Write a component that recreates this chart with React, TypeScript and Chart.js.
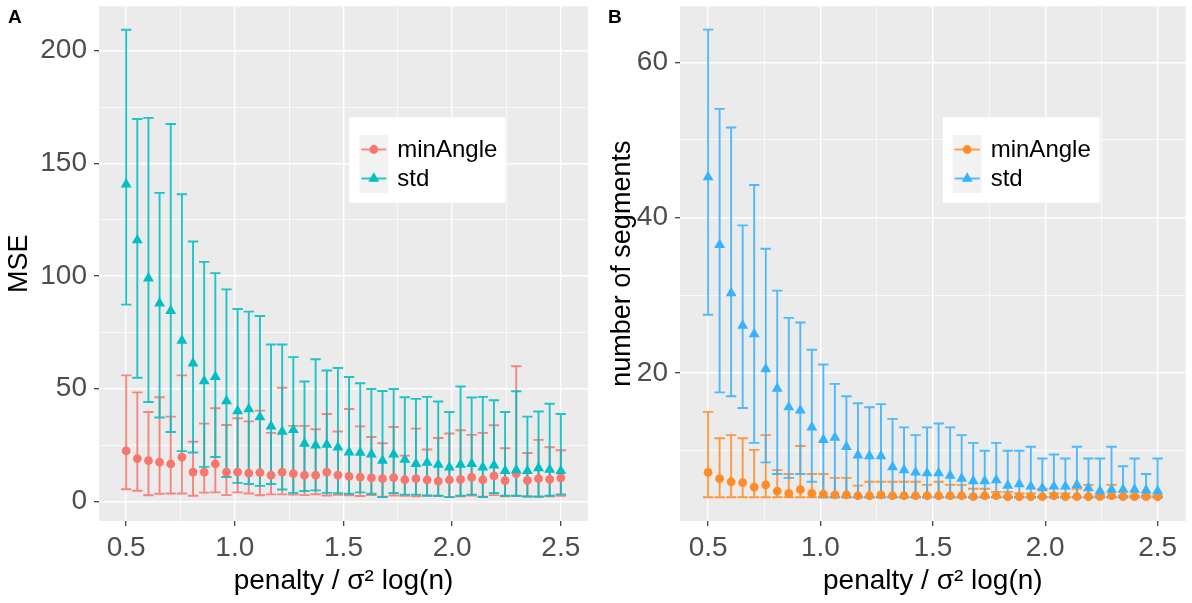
import React, { useEffect, useRef } from "react";
import { Chart, registerables } from "chart.js";

Chart.register(...registerables);

// ---------- data ----------
const xValues = [
  0.5, 0.5513, 0.6026, 0.6538, 0.7051, 0.7564, 0.8077, 0.859, 0.9103, 0.9615,
  1.0128, 1.0641, 1.1154, 1.1667, 1.2179, 1.2692, 1.3205, 1.3718, 1.4231, 1.4744,
  1.5256, 1.5769, 1.6282, 1.6795, 1.7308, 1.7821, 1.8333, 1.8846, 1.9359, 1.9872,
  2.0385, 2.0897, 2.141, 2.1923, 2.2436, 2.2949, 2.3462, 2.3974, 2.4487, 2.5,
];

const xMajorTicks = [0.5, 1.0, 1.5, 2.0, 2.5];
const xTickLabels = ["0.5", "1.0", "1.5", "2.0", "2.5"];
const xMinorTicks = [0.75, 1.25, 1.75, 2.25];

// Panel A: MSE
const mseMinAngleMean = [
  22.4, 19, 18.1, 17.4, 16.6, 19.6, 13, 13, 16.6, 13,
  13, 12.5, 12.8, 11.6, 13, 12.3, 11.6, 11.6, 13, 11.7,
  11.1, 10.8, 10.4, 10.1, 10.5, 9.6, 10.1, 9.5, 9, 9.5,
  9.8, 10.7, 9.6, 11.3, 9.2, 12.3, 9.3, 10.1, 9.8, 10.4,
];
const mseMinAngleHigh = [
  55.9, 48.4, 39.7, 46.2, 37.6, 55.9, 26.5, 34.5, 41.3, 33.9,
  36.9, 35.5, 40.3, 30.4, 50.4, 33.5, 33.5, 32, 38.8, 31,
  41, 33.3, 28.6, 25.8, 33, 20.3, 32.3, 23, 28.1, 30.1,
  31.6, 29.5, 30.4, 33.8, 23.6, 60, 21.5, 27.3, 24, 22.7,
];
const mseMinAngleLow = [
  5.4, 4.7, 2.7, 3.4, 3.5, 3.5, 2.5, 3.9, 4, 2.8,
  4, 3.5, 2.7, 3.1, 3.1, 3, 2.8, 3.2, 2.6, 2.9,
  2.7, 2.4, 2.8, 2.1, 2.6, 2.5, 2.3, 2.6, 2.4, 1.9,
  2.3, 2.6, 2.1, 2.8, 2.3, 2.4, 2.2, 2, 2.3, 2.5,
];
const mseStdMean = [
  140.7, 115.9, 99, 87.9, 84.6, 71.4, 61.3, 53.4, 55.3, 44.5,
  40.1, 41, 37.4, 33.3, 31, 31.7, 25.7, 24.9, 25.2, 24,
  21.8, 21.6, 20.9, 18.1, 20.9, 18.5, 16.7, 17.2, 16.3, 15.1,
  16.3, 16.7, 15.1, 16, 13.6, 13.9, 13.5, 14.8, 14.1, 13.5,
];
const mseStdHigh = [
  209.3, 169.7, 170.2, 136.9, 167.5, 136.3, 115.3, 106.3, 101.3, 94.1,
  85.4, 84.2, 82.3, 69.6, 69.6, 64, 53.2, 63.1, 58.1, 59.2,
  55.2, 52.4, 49.9, 49, 49.9, 46.2, 45.5, 46.4, 44.3, 39.7,
  51, 46.1, 46.4, 44.9, 39.7, 48.9, 37.6, 39.9, 43.3, 38.8,
];
const mseStdLow = [
  87.3, 54.9, 44.1, 37.2, 30.8, 22.3, 21.7, 15.3, 19.7, 10.8,
  8.2, 7.7, 6.9, 7.7, 5.3, 3.8, 4.6, 4.9, 3.8, 3.6,
  3.4, 4, 3.4, 1.9, 3.7, 3, 3, 2.5, 2.5, 1.9,
  2.5, 3, 1.9, 3.7, 2.5, 2.5, 2.2, 2.2, 2.5, 3.1,
];
const mseYMajorTicks = [0, 50, 100, 150, 200];
const mseYTickLabels = ["0", "50", "100", "150", "200"];
const mseYMinorTicks = [25, 75, 125, 175];

// Panel B: number of segments
const segMinAngleMean = [
  7.2, 6.4, 6, 5.9, 5.3, 5.6, 4.8, 4.5, 5, 4.5,
  4.4, 4.3, 4.3, 4.2, 4.2, 4.3, 4.2, 4.2, 4.2, 4.2,
  4.2, 4.2, 4.2, 4.1, 4.2, 4.2, 4.1, 4.1, 4.1, 4.1,
  4.2, 4.1, 4.1, 4.1, 4.1, 4.2, 4.1, 4.1, 4.1, 4.1,
];
const segMinAngleHigh = [
  15, 11.6, 12, 11.6, 10.1, 12, 7.5, 7, 10.6, 7,
  7, 6.5, 6.5, 5.5, 6, 6, 6, 6, 6, 5.6,
  6, 5.6, 5.6, 5.1, 5.1, 4.7, 4.7, 4.5, 4.5, 5.1,
  4.5, 4.5, 5.1, 5.6, 4.2, 5.6, 4.2, 4.2, 4.2, 4.2,
];
const segMinAngleLow = [
  4, 4, 4, 4, 4, 4, 4, 4, 4, 4,
  4, 4, 4, 4, 4, 4, 4, 4, 4, 4,
  4, 4, 4, 4, 4, 4, 4, 4, 4, 4,
  4, 4, 4, 4, 4, 4, 4, 4, 4, 4,
];
const segStdMean = [
  45.2, 36.5, 30.3, 26.1, 25, 20.5, 18, 15.6, 15.2, 13,
  11.4, 11.7, 10.5, 9.4, 9.3, 9.3, 7.9, 7.5, 7.2, 7.1,
  7.1, 6.8, 6.4, 6.1, 6.1, 6.2, 5.5, 5.7, 5.4, 5.2,
  5.4, 5.4, 5.6, 5.2, 4.8, 5, 5, 5, 4.9, 4.8,
];
const segStdHigh = [
  64.2, 54, 51.6, 39, 44.2, 36, 30.6, 27.1, 26.5, 23,
  21.1, 18.6, 17, 16.1, 15.6, 16, 14.1, 13, 12, 13,
  13.5, 13, 12, 11, 10, 11, 10, 10, 10.5, 9,
  9.5, 9, 10.5, 9, 9, 10.5, 8, 9, 7, 9,
];
const segStdLow = [
  27.5, 17.5, 17, 15.5, 11, 8.5, 7, 6.5, 7, 6,
  4, 4, 4, 4, 4, 4, 4, 4, 4, 4,
  4, 4, 4, 4, 4, 4, 4, 4, 4, 4,
  4, 4, 4, 4, 4, 4, 4, 4, 4, 4,
];
const segYMajorTicks = [20, 40, 60];
const segYTickLabels = ["20", "40", "60"];
const segYMinorTicks = [10, 30, 50];

const seriesNames = ["minAngle", "std"];

// ---------- styling ----------
const FONT = '"Liberation Sans", Arial, Helvetica, sans-serif';
Chart.defaults.font.family = FONT;

type Series = {
  label: string;
  color: string;
  shape: "circle" | "triangle";
  radius: number;
  mean: number[];
  low: number[];
  high: number[];
};

type PanelProps = {
  tag: string;
  tagX: number;
  left: number;
  yTitle: string;
  yTitlePad: number;
  yMin: number;
  yMax: number;
  yMajor: number[];
  yLabels: string[];
  yMinor: number[];
  axisWidth: number;
  padRight: number;
  legend: { x: number; y: number; w: number; h: number };
  series: Series[];
};

const CANVAS_W = 596;
const CANVAS_H = 603;
const PLOT_TOP = 5;
const X_AXIS_H = 82;

function near(a: number, b: number) {
  return Math.abs(a - b) < 1e-9;
}

function drawMarker(ctx: CanvasRenderingContext2D, shape: string, x: number, y: number, r: number) {
  ctx.beginPath();
  if (shape === "triangle") {
    let rad = 0;
    ctx.moveTo(x + Math.sin(rad) * r, y - Math.cos(rad) * r);
    rad += (2 * Math.PI) / 3;
    ctx.lineTo(x + Math.sin(rad) * r, y - Math.cos(rad) * r);
    rad += (2 * Math.PI) / 3;
    ctx.lineTo(x + Math.sin(rad) * r, y - Math.cos(rad) * r);
    ctx.closePath();
  } else {
    ctx.arc(x, y, r, 0, Math.PI * 2);
  }
  ctx.fill();
}

function Panel(props: PanelProps) {
  const ref = useRef<HTMLCanvasElement | null>(null);

  useEffect(() => {
    const canvas = ref.current;
    if (!canvas) return;
    const { series } = props;

    const bgPlugin = {
      id: "panelBg",
      beforeDraw(chart: any) {
        const { ctx, chartArea } = chart;
        ctx.save();
        ctx.fillStyle = "#FFFFFF";
        ctx.fillRect(0, 0, chart.width, chart.height);
        ctx.fillStyle = "#EBEBEB";
        ctx.fillRect(chartArea.left, chartArea.top, chartArea.right - chartArea.left, chartArea.bottom - chartArea.top);
        ctx.restore();
      },
    };

    const errorBarPlugin = {
      id: "errorBars",
      beforeDatasetsDraw(chart: any) {
        const { ctx, chartArea, scales } = chart;
        const xs = scales.x;
        const ys = scales.y;
        ctx.save();
        ctx.beginPath();
        ctx.rect(chartArea.left, chartArea.top, chartArea.right - chartArea.left, chartArea.bottom - chartArea.top);
        ctx.clip();
        ctx.lineWidth = 1.9;
        ctx.globalAlpha = 0.88;
        const half = 5.2;
        series.forEach((s) => {
          ctx.strokeStyle = s.color;
          ctx.beginPath();
          xValues.forEach((xv, i) => {
            const px = xs.getPixelForValue(xv);
            const pl = ys.getPixelForValue(s.low[i]);
            const ph = ys.getPixelForValue(s.high[i]);
            ctx.moveTo(px, pl);
            ctx.lineTo(px, ph);
            ctx.moveTo(px - half, pl);
            ctx.lineTo(px + half, pl);
            ctx.moveTo(px - half, ph);
            ctx.lineTo(px + half, ph);
          });
          ctx.stroke();
        });
        ctx.restore();
      },
    };

    const legendPlugin = {
      id: "ggLegend",
      afterDraw(chart: any) {
        const ctx = chart.ctx;
        const { x, y, w, h } = props.legend;
        ctx.save();
        ctx.fillStyle = "#FFFFFF";
        ctx.fillRect(x, y, w, h);
        const kx = x + 10;
        const ky = y + 17.7;
        const kw = 29;
        const rowH = 29;
        ctx.fillStyle = "#F2F2F2";
        ctx.fillRect(kx, ky, kw, rowH * series.length);
        series.forEach((s, k) => {
          const cy = ky + rowH * (k + 0.5);
          ctx.globalAlpha = 0.88;
          ctx.strokeStyle = s.color;
          ctx.lineWidth = 1.9;
          ctx.beginPath();
          ctx.moveTo(kx + 2, cy);
          ctx.lineTo(kx + kw - 2, cy);
          ctx.stroke();
          ctx.globalAlpha = 1;
          ctx.fillStyle = s.color;
          drawMarker(ctx, s.shape, kx + kw / 2, cy, s.radius);
          ctx.fillStyle = "#000000";
          ctx.font = `24px ${FONT}`;
          ctx.textBaseline = "middle";
          ctx.textAlign = "left";
          ctx.fillText(s.label, kx + kw + 9, cy + 1);
        });
        ctx.fillStyle = "#000000";
        ctx.font = `bold 19px ${FONT}`;
        ctx.textBaseline = "alphabetic";
        ctx.fillText(props.tag, props.tagX, 23);
        ctx.restore();
      },
    };

    const xAll = [...xMajorTicks, ...xMinorTicks].sort((a, b) => a - b);
    const yAll = [...props.yMajor, ...props.yMinor].sort((a, b) => a - b);
    const isXMajor = (v: number) => xMajorTicks.some((m) => near(m, v));
    const isYMajor = (v: number) => props.yMajor.some((m) => near(m, v));

    const chart = new Chart(canvas, {
      type: "scatter",
      data: {
        datasets: series.map((s, k) => ({
          label: s.label,
          data: xValues.map((xv, i) => ({ x: xv, y: s.mean[i] })),
          showLine: false,
          pointStyle: s.shape,
          pointRadius: s.radius,
          pointHoverRadius: s.radius,
          pointBackgroundColor: s.color,
          pointBorderColor: s.color,
          pointBorderWidth: 0,
          order: series.length - k,
        })),
      },
      options: {
        animation: false,
        responsive: false,
        devicePixelRatio: 1,
        events: [],
        layout: { padding: { left: 0, right: props.padRight, top: PLOT_TOP, bottom: 0 } },
        plugins: {
          legend: { display: false },
          tooltip: { enabled: false },
        },
        scales: {
          x: {
            type: "linear",
            min: 0.375,
            max: 2.625,
            bounds: "data",
            afterBuildTicks: (axis: any) => {
              axis.ticks = xAll.map((v) => ({ value: v }));
            },
            afterFit: (axis: any) => {
              axis.height = X_AXIS_H;
              axis.paddingLeft = 0;
              axis.paddingRight = 0;
            },
            ticks: {
              autoSkip: false,
              maxRotation: 0,
              minRotation: 0,
              padding: 5,
              color: "#4D4D4D",
              font: { size: 28, family: FONT },
              callback: (v: any) => {
                const idx = xMajorTicks.findIndex((m) => near(m, Number(v)));
                return idx >= 0 ? xTickLabels[idx] : "";
              },
            },
            grid: {
              color: "#FFFFFF",
              lineWidth: (c: any) => (c.tick && isXMajor(c.tick.value) ? 1.4 : 0.7),
              tickLength: 5,
              tickWidth: 1.2,
              tickColor: (c: any) => (c.tick && isXMajor(c.tick.value) ? "#333333" : "rgba(0,0,0,0)"),
            },
            border: { display: false },
            title: {
              display: true,
              text: "penalty / σ² log(n)",
              color: "#000000",
              font: { size: 28, family: FONT },
              padding: { top: 0, bottom: 5 },
            },
          },
          y: {
            type: "linear",
            min: props.yMin,
            max: props.yMax,
            bounds: "data",
            afterBuildTicks: (axis: any) => {
              axis.ticks = yAll.map((v) => ({ value: v }));
            },
            afterFit: (axis: any) => {
              axis.width = props.axisWidth;
              axis.paddingTop = 0;
              axis.paddingBottom = 0;
            },
            ticks: {
              autoSkip: false,
              padding: 7,
              color: "#4D4D4D",
              font: { size: 28, family: FONT },
              callback: (v: any) => {
                const idx = props.yMajor.findIndex((m) => near(m, Number(v)));
                return idx >= 0 ? props.yLabels[idx] : "";
              },
            },
            grid: {
              color: "#FFFFFF",
              lineWidth: (c: any) => (c.tick && isYMajor(c.tick.value) ? 1.4 : 0.7),
              tickLength: 5,
              tickWidth: 1.2,
              tickColor: (c: any) => (c.tick && isYMajor(c.tick.value) ? "#333333" : "rgba(0,0,0,0)"),
            },
            border: { display: false },
            title: {
              display: true,
              text: props.yTitle,
              color: "#000000",
              font: { size: 27, family: FONT },
              padding: { top: props.yTitlePad, bottom: 0 },
            },
          },
        },
      } as any,
      plugins: [bgPlugin, errorBarPlugin, legendPlugin],
    });

    return () => {
      chart.destroy();
    };
  }, []);

  return (
    <div style={{ position: "absolute", left: props.left, top: 0, width: CANVAS_W, height: CANVAS_H }}>
      <canvas ref={ref} width={CANVAS_W} height={CANVAS_H} style={{ display: "block", width: CANVAS_W, height: CANVAS_H }} />
    </div>
  );
}

export default function App() {
  const seriesA: Series[] = [
    { label: seriesNames[0], color: "#F8766D", shape: "circle", radius: 4.4, mean: mseMinAngleMean, low: mseMinAngleLow, high: mseMinAngleHigh },
    { label: seriesNames[1], color: "#00BFC4", shape: "triangle", radius: 6.3, mean: mseStdMean, low: mseStdLow, high: mseStdHigh },
  ];
  const seriesB: Series[] = [
    { label: seriesNames[0], color: "#FF8C26", shape: "circle", radius: 4.4, mean: segMinAngleMean, low: segMinAngleLow, high: segMinAngleHigh },
    { label: seriesNames[1], color: "#36B3FF", shape: "triangle", radius: 6.3, mean: segStdMean, low: segStdLow, high: segStdHigh },
  ];
  return (
    <div style={{ position: "fixed", left: 0, top: 0, width: 1192, height: 603, background: "#FFFFFF", overflow: "hidden" }}>
      <Panel
        tag="A"
        tagX={8}
        left={0}
        yTitle="MSE"
        yTitlePad={3}
        yMin={-8.7}
        yMax={219.7}
        yMajor={mseYMajorTicks}
        yLabels={mseYTickLabels}
        yMinor={mseYMinorTicks}
        axisWidth={99}
        padRight={8}
        legend={{ x: 349.3, y: 117.3, w: 156, h: 85.4 }}
        series={seriesA}
      />
      <Panel
        tag="B"
        tagX={12}
        left={596}
        yTitle="number of segments"
        yTitlePad={10}
        yMin={0.95}
        yMax={67.2}
        yMajor={segYMajorTicks}
        yLabels={segYTickLabels}
        yMinor={segYMinorTicks}
        axisWidth={84}
        padRight={5}
        legend={{ x: 346.7, y: 117.3, w: 157, h: 85.4 }}
        series={seriesB}
      />
    </div>
  );
}
